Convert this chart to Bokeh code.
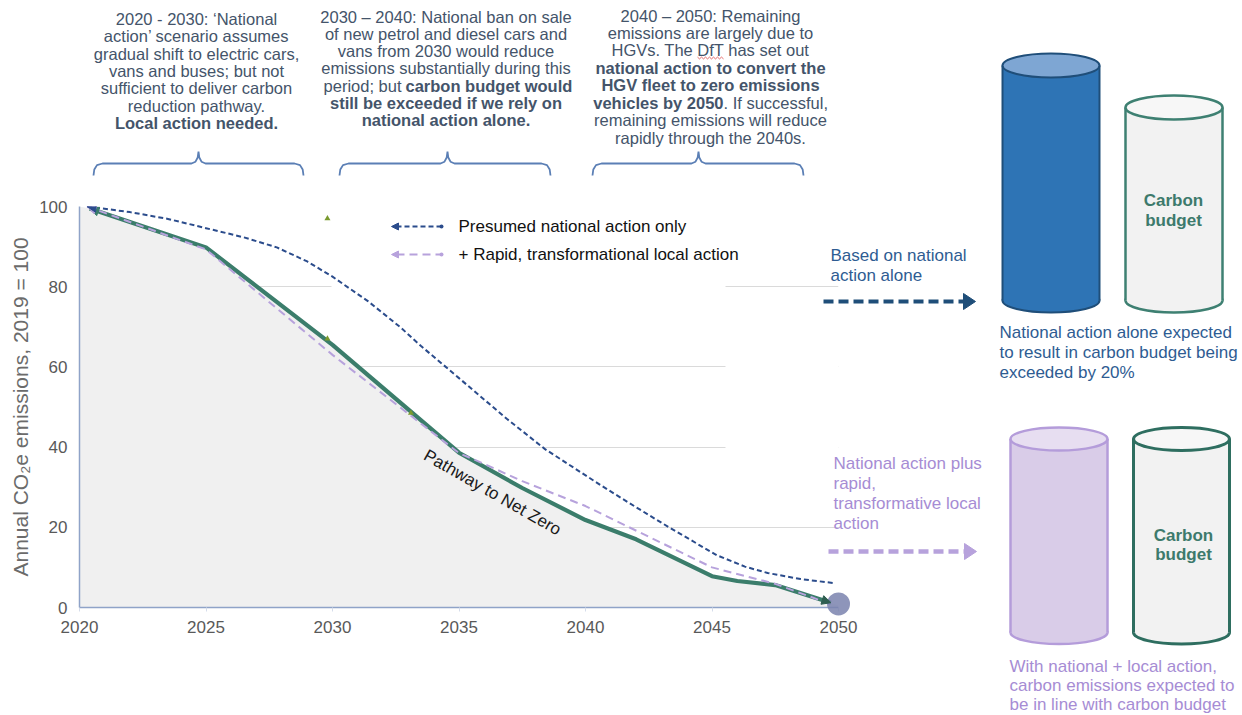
import math
from bokeh.plotting import figure
from bokeh.models import Range1d, Arrow, NormalHead, FixedTicker
from bokeh.core.properties import value
from bokeh.embed import file_html
from bokeh.resources import INLINE

# ---------------- data ----------------
x_ticks = [2020, 2025, 2030, 2035, 2040, 2045, 2050]
y_ticks = [0, 20, 40, 60, 80, 100]

national_years = [2020.3, 2022, 2023.5, 2025, 2026.5, 2027.8, 2029, 2030, 2031.4, 2032.7,
                  2033.5, 2035, 2036.9, 2038.4, 2040.6, 2042, 2043.3, 2045.2, 2046.3,
                  2047.2, 2048.5, 2049.8]
national_vals = [100, 98.6, 96.9, 94.6, 92.3, 89.8, 86.3, 82.5, 76.4, 69.8,
                 65.2, 57.2, 47.0, 39.5, 30.5, 25.0, 20.0, 13.0, 10.2,
                 8.6, 7.1, 6.1]

local_years = [2020.3, 2025, 2030, 2035, 2036, 2037.5, 2040, 2045, 2047.5, 2049.7]
local_vals = [100, 89.3, 63.0, 38.5, 35.8, 31.5, 25.3, 10.0, 5.9, 0.8]

pathway_years = [2020.4, 2025, 2030, 2035, 2037.5, 2040, 2042, 2045, 2046, 2047.5, 2049.7]
pathway_vals = [99.5, 89.8, 65.5, 38.6, 29.8, 21.8, 17.0, 7.8, 6.6, 5.6, 1.2]

end_point_years = [2050]
end_point_vals = [0.9]

stray_marker_years = [2029.8, 2029.8, 2033.1]
stray_marker_vals = [97.0, 67.0, 48.5]

# ---------------- geometry helpers (page pixels -> data) ----------------
W, H = 1242, 715
FR_L, FR_R, FR_T, FR_B = 79.0, 838.0, 206.0, 607.0


def X(px):
    return 2020 + (px - FR_L) * 30.0 / (FR_R - FR_L)


def Y(py):
    return 100 - (py - FR_T) * 100.0 / (FR_B - FR_T)


FONT = "Liberation Sans"
TXT = "#44546A"
BLUE = "#2B4C8C"
PURPLE = "#B7A2DC"
GREEN = "#3B7D6B"

p = figure(frame_width=int(FR_R - FR_L), frame_height=int(FR_B - FR_T),
           min_border_left=int(FR_L), min_border_right=int(W - FR_R),
           min_border_top=int(FR_T), min_border_bottom=int(H - FR_B),
           x_range=Range1d(2020, 2050), y_range=Range1d(0, 100),
           output_backend="svg", toolbar_location=None,
           background_fill_color="white", border_fill_color="white",
           outline_line_color=None)

# axes
p.xaxis.ticker = FixedTicker(ticks=x_ticks)
p.yaxis.ticker = FixedTicker(ticks=y_ticks)
for ax in (p.xaxis, p.yaxis):
    ax.major_label_text_font = FONT
    ax.major_label_text_font_size = "17px"
    ax.major_label_text_color = "#595959"
    ax.axis_line_color = "#8FA3C8"
    ax.axis_line_width = 1.5
    ax.minor_tick_line_color = None
    ax.major_tick_in = 0
p.xaxis.major_tick_out = 4
p.xaxis.major_tick_line_color = "#D5DCEA"
p.xaxis.major_label_standoff = 9
p.yaxis.major_tick_out = 0
p.yaxis.major_tick_line_color = None
p.yaxis.major_label_standoff = 12
p.yaxis.axis_label = "Annual CO\u2082e emissions, 2019 = 100"
p.yaxis.axis_label_text_font = FONT
p.yaxis.axis_label_text_font_style = "normal"
p.yaxis.axis_label_text_font_size = "21px"
p.yaxis.axis_label_text_color = "#6B6B6B"
p.yaxis.axis_label_standoff = 4

p.xgrid.grid_line_color = None
p.ygrid.ticker = FixedTicker(ticks=[20, 40, 60, 80, 100])
p.ygrid.grid_line_color = "#DADADA"
p.ygrid.grid_line_width = 1

# white boxes hiding parts of the grid (legend / text boxes)
p.quad(left=[X(331), X(725)], right=[X(725), X(838)],
       top=[Y(190), Y(330)], bottom=[Y(293), Y(460)],
       fill_color="white", line_color=None)

# grey area under the pathway
fill_x = [2020] + pathway_years + [2050]
fill_y = [100] + pathway_vals + [0.5]
p.varea(x=fill_x, y1=[0] * len(fill_x), y2=fill_y, fill_color="#F0F0F0")

# series
p.line(pathway_years, pathway_vals, line_color=GREEN, line_width=4.2)
p.line(local_years, local_vals, line_color=PURPLE, line_width=2, line_dash="8 5")
p.line(national_years, national_vals, line_color=BLUE, line_width=2, line_dash="5 3")

p.scatter(stray_marker_years, stray_marker_vals, marker="triangle", size=6,
          fill_color="#7A9A2E", line_color=None)

# arrow heads at the start of the lines
for xs, ys, c in ((pathway_years, pathway_vals, GREEN),
                  (local_years, local_vals, PURPLE),
                  (national_years, national_vals, BLUE)):
    p.add_layout(Arrow(end=NormalHead(size=9, fill_color=c, line_color=c),
                       x_start=xs[1], y_start=ys[1], x_end=xs[0], y_end=ys[0],
                       line_alpha=0))
p.add_layout(Arrow(end=NormalHead(size=9, fill_color="#2E5E50", line_color="#2E5E50"),
                   x_start=pathway_years[-2], y_start=pathway_vals[-2],
                   x_end=pathway_years[-1], y_end=pathway_vals[-1], line_alpha=0))

p.scatter(end_point_years, end_point_vals, marker="circle", size=23,
          fill_color="#7A82AE", fill_alpha=0.85, line_color=None, level="annotation")


def lab(px, py, text, size="16.5px", color=TXT, align="center", bold=False, angle=0.0):
    p.text(x=[X(px)], y=[Y(py)], text=[text], angle=angle,
           text_align=align, text_baseline="middle",
           text_font=value(FONT), text_font_size=value(size),
           text_color=color, text_font_style="bold" if bold else "normal",
           level="annotation")


# Pathway label
lab(492, 492, "Pathway to Net Zero", size="17px", color="#1A1A1A", angle=-0.52)

# ---------------- legend ----------------
for py, c, dash, label in ((226, BLUE, "5 3", "Presumed national action only"),
                           (254, PURPLE, "8 5", "+ Rapid, transformational local action")):
    p.line([X(396), X(440)], [Y(py), Y(py)], line_color=c, line_width=2, line_dash=dash)
    p.add_layout(Arrow(end=NormalHead(size=7, fill_color=c, line_color=c),
                       x_start=X(400), y_start=Y(py), x_end=X(391), y_end=Y(py),
                       line_alpha=0))
    p.scatter([X(441)], [Y(py)], marker="circle", size=4, fill_color=c, line_color=None)
    lab(458, py, label, size="17px", color="#111111", align="left")

# ---------------- top annotations ----------------
block1 = ["2020 - 2030: \u2018National", "action\u2019 scenario assumes",
          "gradual shift to electric cars,", "vans and buses; but not",
          "sufficient to deliver carbon", "reduction pathway."]
for i, t in enumerate(block1):
    lab(196, 18.3 + 17.4 * i, t)
lab(196, 18.3 + 17.4 * 6, "Local action needed.", bold=True)

block2 = ["2030 \u2013 2040: National ban on sale", "of new petrol and diesel cars and",
          "vans from 2030 would reduce", "emissions substantially during this"]
for i, t in enumerate(block2):
    lab(445.5, 16 + 17.33 * i, t)
lab(401, 16 + 17.33 * 4, "period; but", align="right")
lab(405, 16 + 17.33 * 4, "carbon budget would", align="left", bold=True)
lab(445.5, 16 + 17.33 * 5, "still be exceeded if we rely on", bold=True)
lab(445.5, 16 + 17.33 * 6, "national action alone.", bold=True)

block3 = ["2040 \u2013 2050: Remaining", "emissions are largely due to",
          "HGVs. The DfT has set out"]
for i, t in enumerate(block3):
    lab(710, 15 + 17.47 * i, t)
lab(710, 15 + 17.47 * 3, "national action to convert the", bold=True)
lab(710, 15 + 17.47 * 4, "HGV fleet to zero emissions", bold=True)
lab(723, 15 + 17.47 * 5, "vehicles by 2050", align="right", bold=True)
lab(723, 15 + 17.47 * 5, ". If successful,", align="left")
lab(710, 15 + 17.47 * 6, "remaining emissions will reduce")
lab(710, 15 + 17.47 * 7, "rapidly through the 2040s.")

# spell-check squiggle under "DfT"
sq_x = [697 + 2 * i for i in range(14)]
sq_y = [57.5 + (0.9 if i % 2 else -0.9) for i in range(14)]
p.line([X(a) for a in sq_x], [Y(b) for b in sq_y], line_color="#E05A5A",
       line_width=0.9, level="annotation")


# braces
def brace(x0, xm, x1, yb=163.0, yt=151.0, ye=175.0):
    pts = [(x0, ye), (x0 + 0.8, 169), (x0 + 3.5, 164.6), (x0 + 9, yb),
           (xm - 7, yb), (xm - 3, yb - 1.8), (xm - 0.8, yb - 6), (xm, yt),
           (xm + 0.8, yb - 6), (xm + 3, yb - 1.8), (xm + 7, yb),
           (x1 - 9, yb), (x1 - 3.5, 164.6), (x1 - 0.8, 169), (x1, ye)]
    p.line([X(a) for a, b in pts], [Y(b) for a, b in pts], line_color="#5B7FB5",
           line_width=1.8, level="annotation")


brace(93, 198, 303)
brace(339, 447, 550)
brace(592, 698, 803)


# ---------------- right panel ----------------
def cylinder(x0, x1, yt, yb, ry, body, top, outline, lw):
    cx = X((x0 + x1) / 2.0)
    w = x1 - x0
    p.ellipse(x=[cx], y=[Y(yb)], width=w, height=2 * ry, width_units="screen",
              height_units="screen", fill_color=body, line_color=outline,
              line_width=lw, level="annotation")
    p.quad(left=[X(x0)], right=[X(x1)], top=[Y(yt)], bottom=[Y(yb)],
           fill_color=body, line_color=None, level="annotation")
    p.segment(x0=[X(x0), X(x1)], y0=[Y(yt), Y(yt)], x1=[X(x0), X(x1)], y1=[Y(yb), Y(yb)],
              line_color=outline, line_width=lw, level="annotation")
    p.ellipse(x=[cx], y=[Y(yt)], width=w, height=2 * ry, width_units="screen",
              height_units="screen", fill_color=top, line_color=outline,
              line_width=lw, level="annotation")


cylinder(1002, 1099, 65, 300, 12, "#2E74B5", "#7EA6D3", "#1F4E79", 2)
cylinder(1125, 1222, 107, 300, 12, "#F2F2F2", "#F7F7F7", "#3E8072", 2.5)
cylinder(1010, 1107, 438.5, 632, 11.5, "#D9CCE8", "#E7DEF1", "#B49CDA", 2.5)
cylinder(1133, 1229, 438.5, 632, 11.5, "#F2F2F2", "#F7F7F7", "#2E6E60", 3)

TEAL_TXT = "#3D7A6C"
lab(1173, 200, "Carbon", size="17px", color=TEAL_TXT, bold=True)
lab(1173, 220, "budget", size="17px", color=TEAL_TXT, bold=True)
lab(1183, 535, "Carbon", size="17px", color=TEAL_TXT, bold=True)
lab(1183, 554, "budget", size="17px", color=TEAL_TXT, bold=True)

BLUE_TXT = "#2E5C92"
PURP_TXT = "#A68CD4"
lab(830, 255, "Based on national", size="17px", color=BLUE_TXT, align="left")
lab(830, 275, "action alone", size="17px", color=BLUE_TXT, align="left")
for i, t in enumerate(["National action alone expected", "to result in carbon budget being",
                       "exceeded by 20%"]):
    lab(999, 332 + 20 * i, t, size="17px", color=BLUE_TXT, align="left")

for i, t in enumerate(["National action plus", "rapid,", "transformative local", "action"]):
    lab(833, 463 + 20 * i, t, size="17px", color=PURP_TXT, align="left")
for i, t in enumerate(["With national + local action,", "carbon emissions expected to",
                       "be in line with carbon budget"]):
    lab(1009, 666 + 19 * i, t, size="17px", color=PURP_TXT, align="left")


# dashed arrows
def dashed_arrow(x0, x1, yy, color, lw):
    p.line([X(x0), X(x1 - 11)], [Y(yy), Y(yy)], line_color=color, line_width=lw,
           line_dash="10 5", level="annotation")
    p.patch([X(x1 - 12), X(x1), X(x1 - 12)], [Y(yy - 8), Y(yy), Y(yy + 8)],
            fill_color=color, line_color=color, level="annotation")


dashed_arrow(823, 975, 301, "#1F4E79", 4)
dashed_arrow(828, 976, 551, "#B7A2DC", 4.5)

open("out.html", "w").write(file_html(p, INLINE))
